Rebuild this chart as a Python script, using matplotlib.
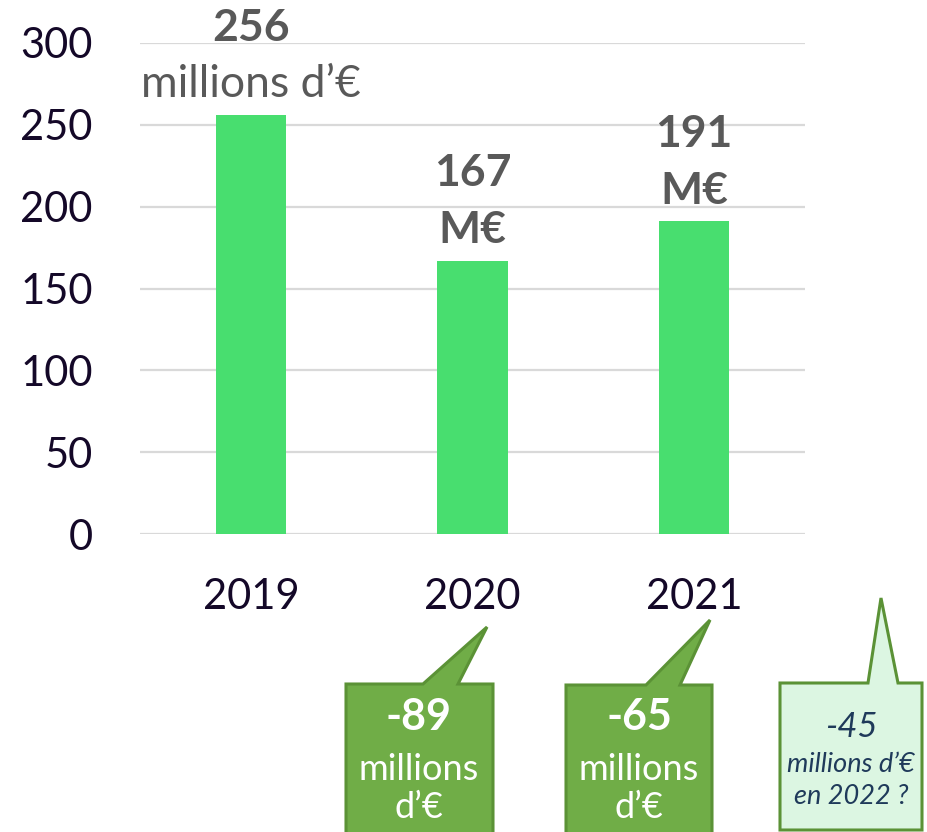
import matplotlib

matplotlib.use("Agg")
import matplotlib.pyplot as plt
from matplotlib.patches import Polygon

plt.rcParams["font.family"] = ["Lato", "DejaVu Sans"]

years = ["2019", "2020", "2021"]
values = [256, 167, 191]
unit_labels = ["millions d\u2019\u20ac", "M\u20ac", "M\u20ac"]
yticks = [0, 50, 100, 150, 200, 250, 300]

# callouts below the axis: drop vs 2019
deltas = ["-89", "-65"]
delta_unit = ["millions", "d\u2019\u20ac"]
forecast = "-45"
forecast_text = ["millions d\u2019\u20ac", "en 2022 ?"]

BAR = "#48de6f"
GRID = "#d9d9d9"
TICK = "#140828"
LABEL = "#595959"
DARK_G, EDGE_G = "#70ad47", "#5b9236"
LIGHT_G = "#dcf6e2"
NAVY = "#1f3a5a"

W, H = 927, 832
fig = plt.figure(figsize=(W / 100, H / 100), dpi=100)
ax = fig.add_axes([140 / W, 298 / H, 665 / W, 491 / H])

x = range(len(years))
ax.bar(x, values, width=0.316, color=BAR, zorder=3)
ax.set_xlim(-0.5, 2.5)
ax.set_ylim(0, 300)
ax.set_yticks(yticks)
ax.set_xticks(list(x))
ax.set_xticklabels(years)
ax.yaxis.grid(True, color=GRID, lw=1.6, zorder=0)
for s in ax.spines.values():
    s.set_visible(False)
ax.tick_params(length=0, labelsize=30, colors=TICK)
ax.tick_params(axis="y", pad=34)
ax.tick_params(axis="x", pad=32)

for i, (v, u) in enumerate(zip(values, unit_labels)):
    ax.annotate(str(v), (i, v), xytext=(0, 63), textcoords="offset points",
                ha="center", va="center", fontsize=32, fontweight="bold",
                color=LABEL, zorder=4, annotation_clip=False)
    ax.annotate(u, (i, v), xytext=(0, 22), textcoords="offset points",
                ha="center", va="center", fontsize=32,
                fontweight="bold" if i else "normal",
                color=LABEL, zorder=4, annotation_clip=False)

# overlay in pixel coordinates for the speech-bubble callouts
ov = fig.add_axes([0, 0, 1, 1], facecolor="none")
ov.set_xlim(0, W)
ov.set_ylim(H, 0)
ov.axis("off")


def bubble(x0, x1, y0, y1, b0, b1, tip, fc, ec):
    pts = [(x0, y0), (b0, y0), tip, (b1, y0), (x1, y0), (x1, y1), (x0, y1)]
    ov.add_patch(Polygon(pts, closed=True, facecolor=fc, edgecolor=ec,
                         lw=2.2, joinstyle="miter"))


bubble(346, 493, 684, 836, 423, 458, (487, 627), DARK_G, EDGE_G)
bubble(566, 712, 685, 836, 646, 680, (710, 620), DARK_G, EDGE_G)
bubble(780, 922, 683, 830, 868, 898, (881, 598), LIGHT_G, EDGE_G)

for cx, d in zip([419, 639], deltas):
    ov.text(cx, 717, d, ha="center", va="center", fontsize=31,
            fontweight="bold", color="white")
    ov.text(cx, 769, delta_unit[0], ha="center", va="center", fontsize=26,
            color="white")
    ov.text(cx, 808, delta_unit[1], ha="center", va="center", fontsize=26,
            color="white")

ov.text(851, 727, forecast, ha="center", va="center", fontsize=25,
        style="italic", color=NAVY)
ov.text(851, 764, forecast_text[0], ha="center", va="center", fontsize=19.5,
        style="italic", color=NAVY)
ov.text(851, 797, forecast_text[1], ha="center", va="center", fontsize=19.5,
        style="italic", color=NAVY)

fig.savefig("out.png", dpi=100)
